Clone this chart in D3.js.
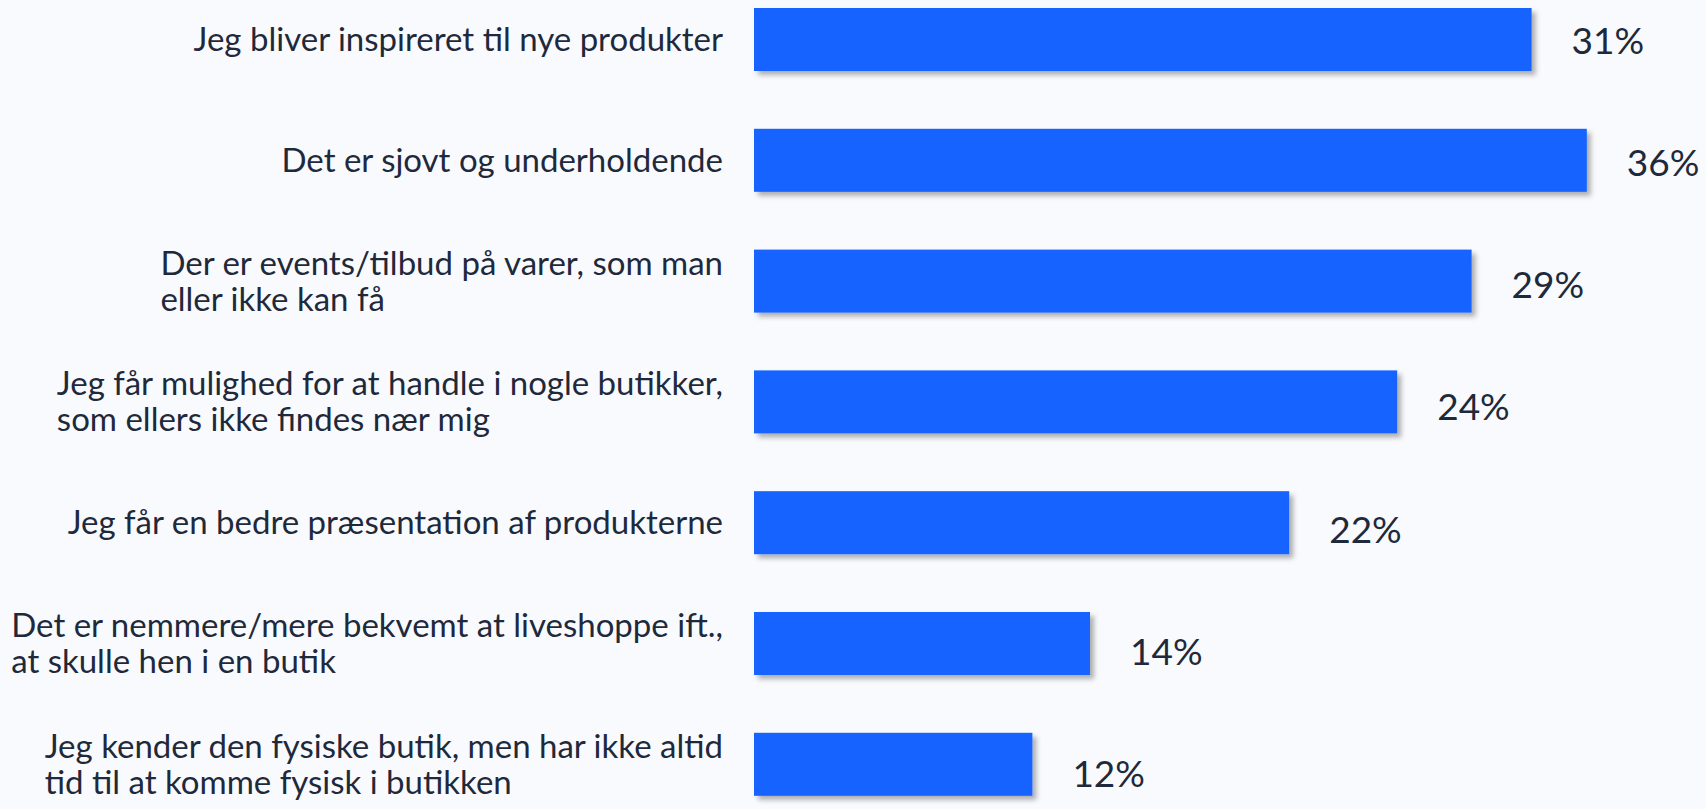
<!DOCTYPE html>
<html>
<head>
<meta charset="utf-8">
<script src="https://cdn.jsdelivr.net/npm/d3@7"></script>
<style>
  html, body { margin: 0; padding: 0; background: #f9fafe; }
  .cat-label { font-family: Lato, sans-serif; font-size: 33px; fill: #1e2a3b; }
  .value-label { font-family: Lato, sans-serif; font-size: 37px; fill: #1e2a3b; }
</style>
</head>
<body>
<svg width="1706" height="809"></svg>
<script>
// categories, one array of lines per bar
var categories = [
    ['Jeg bliver inspireret til nye produkter'],
    ['Det er sjovt og underholdende'],
    ['Der er events/tilbud på varer, som man', 'eller ikke kan få'],
    ['Jeg får mulighed for at handle i nogle butikker,', 'som ellers ikke findes nær mig'],
    ['Jeg får en bedre præsentation af produkterne'],
    ['Det er nemmere/mere bekvemt at liveshoppe ift.,', 'at skulle hen i en butik'],
    ['Jeg kender den fysiske butik, men har ikke altid', 'tid til at komme fysisk i butikken']
];
// bar lengths as drawn in the picture
var values = [32.4, 34.7, 29.9, 26.8, 22.3, 14.0, 11.6];
// printed labels
var valueLabels = ['31%', '36%', '29%', '24%', '22%', '14%', '12%'];

var svg = d3.select('svg');
var svgWidth = +svg.attr('width');
var svgHeight = +svg.attr('height');

var padding = { t: 8, l: 754 };
var barHeight = 63;
var step = 120.8;
var n = categories.length;

var xScale = d3.scaleLinear()
    .domain([0, 40])
    .range([padding.l, padding.l + 24 * 40]);

// range length = step * (n - 1) + bandwidth when outer padding is 0
var yScale = d3.scaleBand()
    .domain(d3.range(n))
    .range([padding.t, padding.t + step * (n - 1) + barHeight])
    .paddingInner(1 - barHeight / step)
    .paddingOuter(0);

// soft drop shadow under the bars
var defs = svg.append('defs');
var filter = defs.append('filter')
    .attr('id', 'shadow')
    .attr('x', '-5%').attr('y', '-20%')
    .attr('width', '115%').attr('height', '160%');
filter.append('feDropShadow')
    .attr('dx', 4).attr('dy', 4)
    .attr('stdDeviation', 2.5)
    .attr('flood-color', '#000')
    .attr('flood-opacity', 0.3);

svg.selectAll('.bar')
    .data(values)
    .enter()
    .append('rect')
    .attr('class', 'bar')
    .attr('x', xScale(0))
    .attr('y', (d, i) => yScale(i))
    .attr('width', d => xScale(d) - xScale(0))
    .attr('height', yScale.bandwidth())
    .attr('fill', '#1463ff')
    .attr('filter', 'url(#shadow)');

svg.selectAll('.value-label')
    .data(values)
    .enter()
    .append('text')
    .attr('class', 'value-label')
    .attr('x', d => xScale(d) + 40)
    .attr('y', (d, i) => yScale(i) + yScale.bandwidth() / 2 + 1 + 1.4 * i)
    .attr('dy', '0.36em')
    .text((d, i) => valueLabels[i]);

// category labels: left-aligned block, right edge near the bars
var lineHeight = 36;
var labelRight = padding.l - 31;
var groups = svg.selectAll('.cat')
    .data(categories)
    .enter()
    .append('text')
    .attr('class', 'cat-label');

groups.each(function (lines, i) {
    var t = d3.select(this);
    var cy = yScale(i) + yScale.bandwidth() / 2;
    var y0 = cy - (lines.length - 1) * lineHeight / 2;
    lines.forEach(function (line, j) {
        t.append('tspan')
            .attr('y', y0 + j * lineHeight)
            .attr('dy', '0.35em')
            .text(line);
    });
    var w = d3.max(t.selectAll('tspan').nodes(), n => n.getComputedTextLength());
    t.selectAll('tspan').attr('x', labelRight - w);
});
</script>
</body>
</html>
